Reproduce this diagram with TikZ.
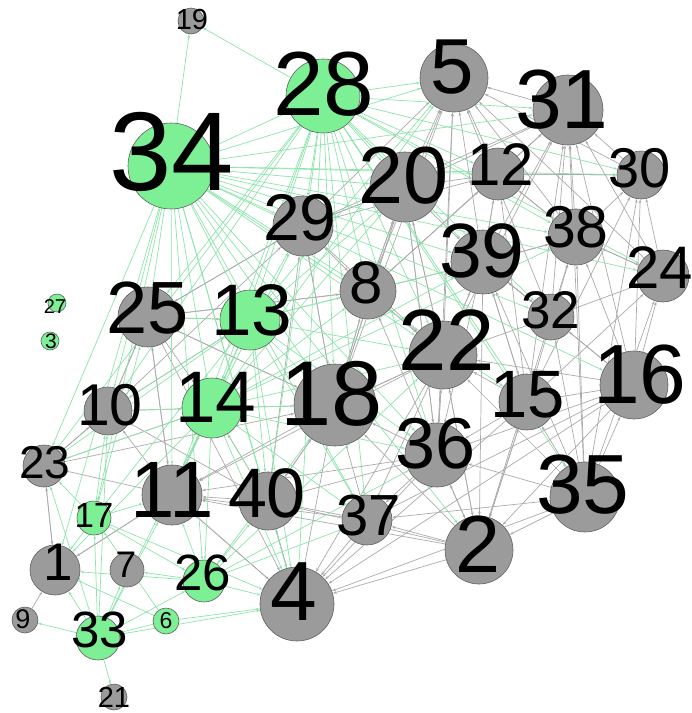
\documentclass[tikz,border=0pt]{standalone}
\usepackage{fontspec}
\setmainfont{Liberation Sans}
\usetikzlibrary{arrows.meta,backgrounds}
\definecolor{gfill}{RGB}{125,240,150}
\definecolor{kfill}{RGB}{155,155,155}
\definecolor{gline}{RGB}{140,228,170}
\definecolor{kline}{RGB}{170,170,170}
\definecolor{bord}{RGB}{95,95,95}
\pgfdeclarelayer{fg}
\pgfsetlayers{background,main,fg}
\tikzset{
  vtx/.style={circle,draw=bord,line width=0.6pt,inner sep=0pt},
  ge/.style={draw=gline,line width=0.7pt,-{Stealth[length=4pt,width=2.6pt]}},
  ke/.style={draw=kline,line width=0.7pt,-{Stealth[length=4pt,width=2.6pt]}}
}
\newcommand\V[8]{%
  \node[vtx,fill=#5,minimum size={2*#4pt}] (n#1) at (#2,#3) {};
  \begin{pgfonlayer}{fg}
  \node[inner sep=0pt,anchor=base,font=\fontsize{#8}{#8}\selectfont] (l#1) at (#6,#7) {#1};
  \end{pgfonlayer}}
\begin{document}
\begin{tikzpicture}[x=1pt,y=-1pt]
\useasboundingbox (0,0) rectangle (692,713);
\V{34}{171}{166}{43}{gfill}{172}{190}{112}
\V{28}{323}{96}{37}{gfill}{324}{115}{91}
\V{19}{191}{21}{13}{kfill}{192}{29}{29}
\V{5}{454}{78}{34}{kfill}{452}{93}{78}
\V{31}{568}{110}{35}{kfill}{562}{128}{84}
\V{30}{641}{175}{24}{kfill}{640}{187}{56}
\V{12}{498}{174}{26}{kfill}{501}{185}{60}
\V{20}{405}{187}{35}{kfill}{404}{203}{81}
\V{38}{576}{237}{28}{kfill}{576}{247}{59}
\V{39}{483}{262}{32}{kfill}{482}{277}{77}
\V{24}{663}{276}{26}{kfill}{660}{288}{60}
\V{32}{551}{317}{23}{kfill}{551}{328}{53}
\V{8}{368}{291}{28}{kfill}{366}{303}{60}
\V{29}{303}{226}{30}{kfill}{300}{240}{66}
\V{25}{148}{317}{30}{kfill}{148}{333}{74}
\V{13}{250}{320}{30}{gfill}{252}{335}{73}
\V{27}{57}{303}{9}{gfill}{55}{313}{20}
\V{3}{50}{341}{9}{gfill}{51}{348}{21}
\V{22}{443}{355}{34}{kfill}{447}{370}{87}
\V{10}{108}{411}{24}{kfill}{110}{425}{59}
\V{14}{212}{408}{30}{gfill}{216}{422}{73}
\V{18}{335}{405}{41}{kfill}{332}{425}{92}
\V{23}{44}{466}{21}{kfill}{45}{478}{46}
\V{11}{172}{495}{30}{kfill}{172}{517}{80}
\V{40}{268}{501}{29}{kfill}{267}{517}{70}
\V{17}{94}{518}{17}{gfill}{94}{527}{35}
\V{1}{55}{570}{25}{kfill}{58}{580}{53}
\V{7}{127}{570}{17}{kfill}{126}{577}{37}
\V{26}{204}{581}{21}{gfill}{203}{590}{51}
\V{4}{297}{604}{37}{kfill}{294}{620}{84}
\V{9}{25}{620}{13}{kfill}{23}{628}{27}
\V{6}{166}{621}{13}{gfill}{166}{628}{23}
\V{33}{98}{638}{22}{gfill}{100}{647}{51}
\V{21}{114}{697}{13}{kfill}{114}{707}{29}
\V{36}{437}{455}{32}{kfill}{436}{468}{72}
\V{15}{527}{402}{28}{kfill}{528}{417}{67}
\V{16}{634}{385}{34}{kfill}{640}{403}{84}
\V{35}{585}{497}{35}{kfill}{583}{513}{84}
\V{37}{367}{520}{25}{kfill}{369}{535}{58}
\V{2}{479}{550}{34}{kfill}{478}{572}{81}
\begin{pgfonlayer}{background}
\foreach \a/\b in {29/5,29/20,29/8,29/25,29/18,29/22,29/12,29/31,
 20/5,20/31,20/12,20/39,20/8,20/22,20/18,20/36,20/29,
 12/5,12/31,12/30,12/39,12/38,
 39/5,39/31,39/12,39/38,39/22,39/15,39/32,39/36,39/2,
 38/31,38/5,38/30,38/24,38/12,38/39,
 30/31,30/5,30/12,24/31,24/30,24/38,24/5,
 32/31,32/38,32/39,32/5,32/24,32/22,32/2,
 8/5,8/20,8/29,8/25,8/18,8/22,8/39,8/12,8/31,
 22/5,22/20,22/39,22/31,22/8,22/18,22/36,22/4,22/2,22/37,22/11,
 15/31,15/38,15/24,15/30,15/22,15/39,15/36,15/2,15/4,15/12,
 16/31,16/30,16/24,16/38,16/32,16/15,16/39,16/2,16/36,16/22,16/37,16/4,
 35/16,35/15,35/24,35/38,35/31,35/32,35/36,35/2,35/37,35/4,35/22,35/30,35/39,
 36/18,36/22,36/8,36/37,36/4,36/2,36/11,36/40,36/5,36/20,
 2/37,2/4,2/36,2/22,2/15,2/18,2/11,2/40,
 37/4,37/40,37/11,37/18,
 18/4,18/40,18/11,18/29,18/8,18/14,18/25,18/5,18/20,18/22,
 40/11,40/4,40/14,40/18,40/10,40/29,
 4/11,4/40,11/1,11/10,11/23,11/25,11/4,11/14,
 10/14,10/25,10/23,10/29,10/13,
 25/13,25/29,25/8,25/10,25/11,25/14,25/18,25/4,
 23/10,23/1,23/14,23/18,1/23,1/11,9/1,31/5}
  \draw[ke] (n\a) -- (n\b);
\foreach \a/\b in {34/19,34/28,34/29,34/25,34/13,34/10,34/23,34/14,34/11,34/40,34/4,34/8,34/20,34/5,34/12,34/39,34/22,34/18,34/36,34/37,34/38,34/31,34/30,34/24,34/32,34/15,34/1,34/17,34/26,34/2,34/16,
 28/19,28/5,28/31,28/12,28/20,28/29,28/8,28/13,28/25,28/14,28/11,28/40,28/18,28/22,28/39,28/38,28/30,28/24,28/4,28/37,28/36,28/10,28/15,28/32,28/23,28/35,
 13/25,13/14,13/29,13/8,13/18,13/22,13/39,13/40,13/4,13/11,13/10,13/20,13/5,13/36,13/37,13/23,13/17,
 14/10,14/11,14/40,14/4,14/18,14/22,14/36,14/37,14/8,14/29,14/23,14/1,14/26,14/20,14/5,14/39,14/38,
 17/23,17/10,17/1,17/11,17/4,17/26,17/25,
 26/4,26/1,26/7,26/11,26/40,26/18,26/36,26/22,26/37,
 33/9,33/1,33/7,33/17,33/21,33/11,33/10,33/26,33/4,33/23,33/14,
 6/4,6/1,6/33,6/17}
  \draw[ge] (n\a) -- (n\b);
\end{pgfonlayer}
\end{tikzpicture}
\end{document}
